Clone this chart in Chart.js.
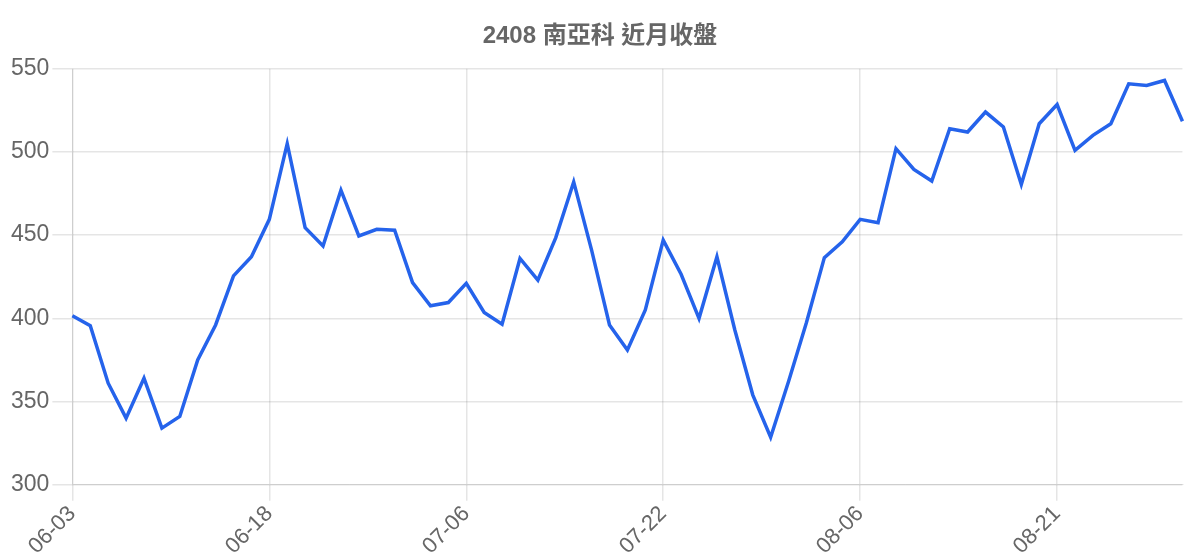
<!DOCTYPE html>
<html>
<head>
<meta charset="utf-8">
<script src="https://cdn.jsdelivr.net/npm/chart.js@4"></script>
<style>
  html, body { margin: 0; padding: 0; background: #fff; }
  #wrap { width: 1200px; height: 560px; }
</style>
</head>
<body>
<div id="wrap"><canvas id="myChart"></canvas></div>
<script>
// trading days, one label every 11 points is shown
var dates = [
  '06-03','06-04','06-05','06-06','06-07','06-10','06-11','06-12','06-13','06-14','06-17',
  '06-18','06-19','06-20','06-21','06-24','06-25','06-26','06-27','06-28','07-01','07-03',
  '07-06','07-08','07-09','07-10','07-11','07-12','07-15','07-16','07-17','07-18','07-19',
  '07-22','07-23','07-24','07-25','07-26','07-29','07-30','07-31','08-01','08-02','08-05',
  '08-06','08-07','08-08','08-09','08-12','08-13','08-14','08-15','08-16','08-19','08-20',
  '08-21','08-22','08-23','08-26','08-27','08-28','08-29','08-30'
];

var closes = [
  401.5, 395.5, 361, 340, 364, 334, 341, 375, 396, 425.5, 437,
  459.5, 505, 454.5, 443.5, 477, 449.5, 453.5, 453, 421.5, 407.5, 409.5,
  421, 403.5, 396.5, 436, 423, 448.5, 482, 441, 396, 381, 405,
  447, 426.5, 400, 437, 393, 354, 328.5, 362, 397.5, 436.5, 446,
  459.5, 457.5, 502, 489.5, 482.5, 514, 512, 524, 515, 480.5, 517,
  528.5, 501, 510, 517, 541, 540, 543, 518.5
];

var yMin = 300;
var yMax = 550;
var yStep = 50;
var labelEvery = 11;

Chart.defaults.font.family = "'Liberation Sans', Arial, 'Noto Sans CJK TC', sans-serif";

var gridColor = 'rgba(0,0,0,0.1)';

var ctx = document.getElementById('myChart').getContext('2d');
var myChart = new Chart(ctx, {
    type: 'line',
    data: {
        labels: dates,
        datasets: [{
            label: '收盤',
            data: closes,
            borderColor: '#2563eb',
            borderWidth: 3.5,
            pointRadius: 0,
            fill: false,
            tension: 0
        }]
    },
    options: {
        responsive: true,
        maintainAspectRatio: false,
        animation: false,
        layout: { padding: { left: 8, top: 10, right: 8, bottom: 0 } },
        plugins: {
            legend: { display: false },
            title: {
                display: true,
                text: '2408 南亞科 近月收盤',
                color: '#666',
                font: { size: 24, weight: 'bold' },
                padding: { top: 12, bottom: 18 }
            }
        },
        scales: {
            x: {
                grid: {
                    tickLength: 16,
                    lineWidth: 1.5,
                    color: function(c) {
                        return c.index % labelEvery === 0 ? gridColor : 'transparent';
                    }
                },
                ticks: {
                    autoSkip: false,
                    minRotation: 45,
                    maxRotation: 45,
                    padding: 2,
                    color: '#666',
                    font: { size: 22, lineHeight: 1 },
                    callback: function(v, i) {
                        return i % labelEvery === 0 ? dates[i] : '';
                    }
                }
            },
            y: {
                min: yMin,
                max: yMax,
                grid: { tickLength: 20, lineWidth: 1.5, color: gridColor },
                ticks: {
                    stepSize: yStep,
                    color: '#666',
                    font: { size: 23 }
                }
            }
        }
    }
});
</script>
</body>
</html>
